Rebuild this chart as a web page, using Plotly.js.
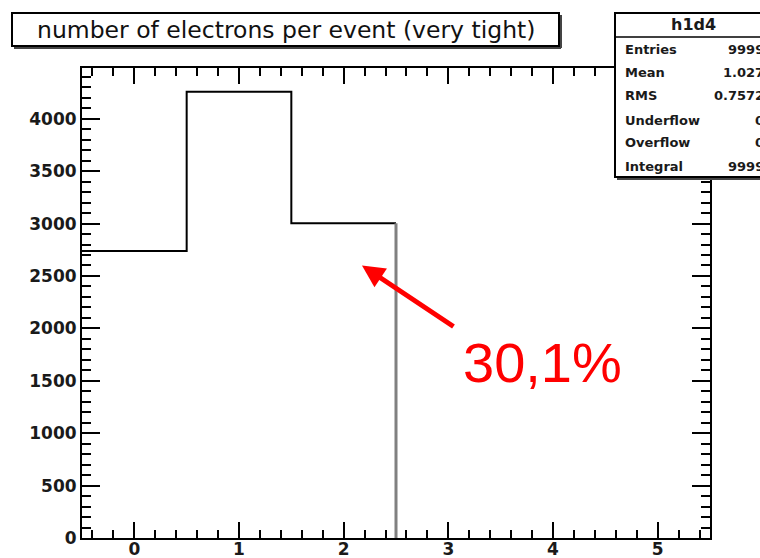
<!DOCTYPE html>
<html>
<head>
<meta charset="utf-8">
<script src="https://cdn.plot.ly/plotly-3.0.1.min.js"></script>
<style>html,body{margin:0;padding:0;background:#fff;}#chart{width:760px;height:558px;}</style>
</head>
<body>
<div id="chart"></div>
<script>
// ---- data ----
var binEdges = [-0.5, 0.5, 1.5, 2.5];
var binCounts = [2737, 4258, 3004];
var xTickVals = [0, 1, 2, 3, 4, 5];
var yTickVals = [0, 500, 1000, 1500, 2000, 2500, 3000, 3500, 4000];
var titleText = "number of electrons per event (very tight)";
var statsName = "h1d4";
var statsLabels = ["Entries", "Mean", "RMS", "Underflow", "Overflow", "Integral"];
var statsValues = ["9999", "1.027", "0.7572", "0", "0", "9999"];
var annotText = "30,1%";
var arrowPoint = {x: 2.175, y: 2600};

// ---- layout geometry (pixels) ----
var L = 82, R = 710, T = 68, B = 538;
var W = R - L, PH = B - T;
function px(x){ return (x - L) / W; }
function py(y){ return (B - y) / PH; }

// histogram outline built from bins
var hx = binEdges.slice();
var hy = binCounts.concat([binCounts[binCounts.length - 1]]);
var last = binEdges[binEdges.length - 1];

var traces = [
  {x: hx, y: hy, type: 'scatter', mode: 'lines', line: {shape: 'hv', color: '#000', width: 2}, hoverinfo: 'skip'},
  {x: [last, last], y: [binCounts[binCounts.length - 1], 0], type: 'scatter', mode: 'lines', line: {color: '#808080', width: 3}, hoverinfo: 'skip'}
];

var tickFont = {family: 'DejaVu Sans', size: 17, color: '#1a1a1a', weight: 'bold'};
var statFont = {family: 'DejaVu Sans', size: 13, color: '#1a1a1a', weight: 'bold'};

var shapes = [
  // title box (with small shadow)
  {type: 'line', xref: 'paper', yref: 'paper', x0: px(14), x1: px(561), y0: py(48), y1: py(48), line: {color: '#444', width: 2}, layer: 'above'},
  {type: 'line', xref: 'paper', yref: 'paper', x0: px(561), x1: px(561), y0: py(48), y1: py(15), line: {color: '#444', width: 2}, layer: 'above'},
  {type: 'rect', xref: 'paper', yref: 'paper', x0: px(12), x1: px(559), y0: py(46), y1: py(13), line: {color: '#000', width: 2}, fillcolor: '#fff', layer: 'above'},
  // stats box
  {type: 'line', xref: 'paper', yref: 'paper', x0: px(617), x1: px(772), y0: py(179), y1: py(179), line: {color: '#444', width: 2}, layer: 'above'},
  {type: 'rect', xref: 'paper', yref: 'paper', x0: px(615), x1: px(772), y0: py(177), y1: py(13), line: {color: '#000', width: 2}, fillcolor: '#fff', layer: 'above'},
  {type: 'line', xref: 'paper', yref: 'paper', x0: px(615), x1: px(772), y0: py(37), y1: py(37), line: {color: '#000', width: 1.5}, layer: 'above'}
];

var annotations = [
  {xref: 'paper', yref: 'paper', x: px(286), y: py(30), text: titleText, showarrow: false, xanchor: 'center', yanchor: 'middle', font: {family: 'DejaVu Sans', size: 23.5, color: '#111'}},
  {xref: 'paper', yref: 'paper', x: px(693), y: py(25), text: statsName, showarrow: false, xanchor: 'center', yanchor: 'middle', font: {family: 'DejaVu Sans', size: 16, color: '#1a1a1a', weight: 'bold'}},
  {xref: 'x', yref: 'y', x: arrowPoint.x, y: arrowPoint.y, ax: 93, ay: 62, text: '', showarrow: true, arrowhead: 2, arrowsize: 0.9, arrowwidth: 5, arrowcolor: '#ff0000'},
  {xref: 'paper', yref: 'paper', x: px(542), y: py(362), text: annotText, showarrow: false, xanchor: 'center', yanchor: 'middle', font: {family: 'Liberation Sans', size: 56, color: '#ff0000'}}
];
var rowY = [49, 73, 96, 120, 143, 166];
for (var i = 0; i < statsLabels.length; i++) {
  annotations.push({xref: 'paper', yref: 'paper', x: px(623), y: py(rowY[i]), text: statsLabels[i], showarrow: false, xanchor: 'left', yanchor: 'middle', font: statFont});
  annotations.push({xref: 'paper', yref: 'paper', x: px(766), y: py(rowY[i]), text: statsValues[i], showarrow: false, xanchor: 'right', yanchor: 'middle', font: statFont});
}

var layout = {
  width: 760, height: 558,
  margin: {l: L, r: 760 - R, t: T, b: 558 - B, pad: 0},
  paper_bgcolor: '#fff', plot_bgcolor: '#fff',
  showlegend: false,
  xaxis: {
    range: [-0.5, 5.5], tickvals: xTickVals, ticktext: xTickVals.map(String),
    ticks: 'inside', ticklen: 16, tickwidth: 2, tickcolor: '#000',
    showline: true, linecolor: '#000', linewidth: 2, mirror: 'allticks',
    showgrid: false, zeroline: false, tickfont: tickFont, ticklabelstandoff: -5,
    minor: {dtick: 0.2, tick0: 0, ticks: 'inside', ticklen: 8, tickwidth: 2, tickcolor: '#000', showgrid: false},
    fixedrange: true
  },
  yaxis: {
    range: [0, 4484], tickvals: yTickVals, ticktext: yTickVals.map(String),
    ticks: 'inside', ticklen: 18, tickwidth: 2, tickcolor: '#000',
    showline: true, linecolor: '#000', linewidth: 2, mirror: 'allticks',
    showgrid: false, zeroline: false, tickfont: tickFont,
    minor: {dtick: 100, tick0: 0, ticks: 'inside', ticklen: 9, tickwidth: 2, tickcolor: '#000', showgrid: false},
    fixedrange: true
  },
  shapes: shapes,
  annotations: annotations
};

Plotly.newPlot('chart', traces, layout, {staticPlot: true, displayModeBar: false});
</script>
</body>
</html>
